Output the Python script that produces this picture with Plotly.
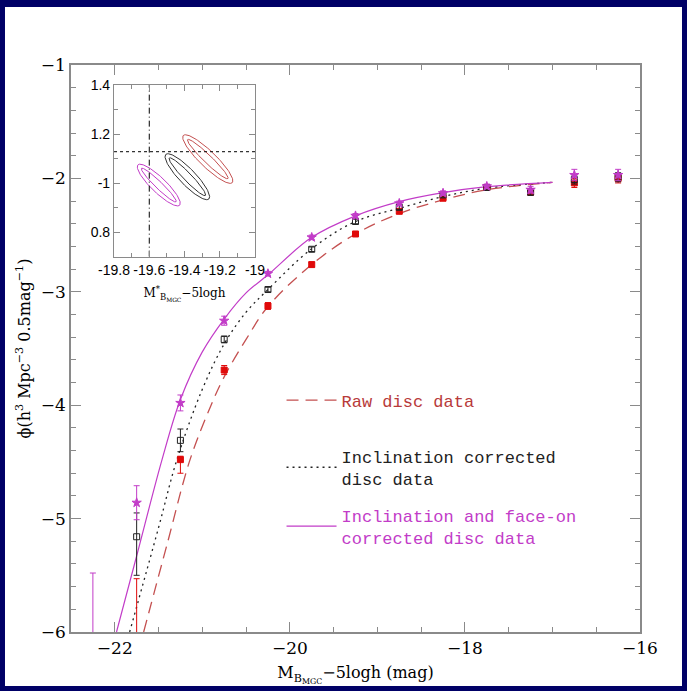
import numpy as np
import plotly.graph_objects as go

# ---------------- data ----------------
bins = [-22.25, -21.75, -21.25, -20.75, -20.25, -19.75, -19.25, -18.75,
        -18.25, -17.75, -17.25, -16.75, -16.25]

raw_y = [None, -6.5, -4.48, -3.69, -3.125, -2.76, -2.49, -2.29, -2.175, -2.08, -2.12, -2.04, -2.00]
raw_up = [0, 0.97, 0.03, 0.04, 0.03, 0.02, 0.02, 0.02, 0.02, 0.02, 0.03, 0.04, 0.04]
raw_dn = [0, 0.3, 0.12, 0.04, 0.03, 0.02, 0.02, 0.02, 0.02, 0.02, 0.03, 0.04, 0.04]

inc_y = [None, -5.16, -4.31, -3.42, -2.98, -2.625, -2.38, -2.255, -2.146, -2.08, -2.12, -2.01, -1.99]
inc_up = [0, 0.21, 0.10, 0.03, 0.02, 0.02, 0.02, 0.02, 0.02, 0.02, 0.03, 0.04, 0.04]
inc_dn = [0, 0.34, 0.10, 0.03, 0.02, 0.02, 0.02, 0.02, 0.02, 0.02, 0.03, 0.04, 0.04]

fo_y = [-6.3, -4.86, -3.98, -3.255, -2.84, -2.52, -2.33, -2.22, -2.13, -2.07, -2.10, -1.97, -1.97]
fo_up = [0.82, 0.15, 0.07, 0.04, 0.02, 0.02, 0.02, 0.02, 0.02, 0.02, 0.03, 0.05, 0.05]
fo_dn = [0.3, 0.15, 0.07, 0.04, 0.02, 0.02, 0.02, 0.02, 0.02, 0.02, 0.03, 0.05, 0.05]

# fitted curves
fo_cx = [-21.98, -21.75, -21.46, -21.25, -21.0, -20.75, -20.5, -20.25, -19.75, -19.25, -18.75, -18.25, -17.75, -17.0]
fo_cy = [-6.0, -5.33, -4.48, -3.95, -3.53, -3.24, -3.01, -2.85, -2.52, -2.33, -2.205, -2.126, -2.073, -2.035]
inc_cx = [-21.83, -21.5, -21.29, -21.0, -20.75, -20.5, -20.25, -19.75, -19.25, -18.75, -18.25, -17.75, -17.0]
inc_cy = [-6.0, -5.08, -4.48, -3.86, -3.46, -3.18, -2.98, -2.62, -2.38, -2.264, -2.16, -2.086, -2.035]
raw_cx = [-21.67, -21.4, -21.14, -20.9, -20.75, -20.5, -20.25, -19.75, -19.25, -18.75, -18.25, -17.75, -17.0]
raw_cy = [-6.0, -5.22, -4.48, -4.0, -3.75, -3.42, -3.13, -2.76, -2.49, -2.31, -2.19, -2.10, -2.035]

# inset: error ellipses (centre x, centre y, semi-major px, semi-minor px, angle deg)
ell_names = ["raw", "inc", "fo"]
ell_cx = [-19.268, -19.384, -19.546]
ell_cy = [1.098, 1.026, 0.992]
ell_a_outer = [34, 31, 29]
ell_b_outer = [8.0, 8.0, 7.5]
ell_a_inner = [28, 26, 24]
ell_b_inner = [4.0, 4.0, 3.5]
ell_ang = [44, 46, 44]
fid_x = -19.6
fid_y = 1.128

# colours
RED_L = "#c45050"
RED_M = "#e00a0a"
BLK = "#222222"
MAG = "#c23cc8"
NAVY = "#000066"

fig = go.Figure()

# ---- curves (each in its own legend box) ----
fig.add_trace(go.Scatter(x=raw_cx, y=raw_cy, mode="lines", line=dict(color=RED_L, width=1.3, dash="12px,7px", shape="spline"),
                         name='<span style="color:#b83a3a">Raw disc data</span>', legend="legend"))
fig.add_trace(go.Scatter(x=inc_cx, y=inc_cy, mode="lines", line=dict(color=BLK, width=1.3, dash="2px,4px", shape="spline"),
                         name='<span style="color:#222">Inclination corrected<br>disc data</span>', legend="legend2"))
fig.add_trace(go.Scatter(x=fo_cx, y=fo_cy, mode="lines", line=dict(color=MAG, width=1.2, shape="spline"),
                         name='<span style="color:#c23cc8">Inclination and face-on<br>corrected disc data</span>', legend="legend3"))

# ---- points ----
def pts(y, up, dn, color, symbol, size, fill):
    return go.Scatter(x=bins, y=y, mode="markers", showlegend=False, cliponaxis=True,
                      marker=dict(symbol=symbol, size=size, color=fill, line=dict(color=color, width=1)),
                      error_y=dict(type="data", symmetric=False, array=up, arrayminus=dn,
                                   color=color, thickness=1, width=3))

fig.add_trace(pts(raw_y, raw_up, raw_dn, RED_M, "square", 6, RED_M))
fig.add_trace(pts(inc_y, inc_up, inc_dn, BLK, "square-open", 6, BLK))
fig.add_trace(pts(fo_y, fo_up, fo_dn, MAG, "star", 7, MAG))

# ---- inset ellipses ----
inset_dom_x = [0.0756, 0.3234]
inset_dom_y = [0.662, 0.9647]
inset_rx = [-19.8, -19.0]
inset_ry = [0.7, 1.4]
plot_w, plot_h = 569, 567
pxx = (inset_dom_x[1] - inset_dom_x[0]) * plot_w / (inset_rx[1] - inset_rx[0])
pxy = (inset_dom_y[1] - inset_dom_y[0]) * plot_h / (inset_ry[1] - inset_ry[0])
t = np.linspace(0, 2 * np.pi, 120)
ecols = [RED_L, "#333333", MAG]
for i in range(3):
    th = np.deg2rad(ell_ang[i])
    for a, b in ((ell_a_outer[i], ell_b_outer[i]), (ell_a_inner[i], ell_b_inner[i])):
        dx = a * np.cos(t) * np.cos(th) - b * np.sin(t) * np.sin(th)
        dy = a * np.cos(t) * np.sin(th) + b * np.sin(t) * np.cos(th)
        fig.add_trace(go.Scatter(x=ell_cx[i] + dx / pxx, y=ell_cy[i] - dy / pxy, mode="lines",
                                 line=dict(color=ecols[i], width=1), showlegend=False,
                                 xaxis="x2", yaxis="y2"))

fig.add_trace(go.Scatter(x=[fid_x, fid_x], y=inset_ry, mode="lines", line=dict(color="black", width=1, dash="6px,3px,1px,3px"),
                         showlegend=False, xaxis="x2", yaxis="y2"))
fig.add_trace(go.Scatter(x=inset_rx, y=[fid_y, fid_y], mode="lines", line=dict(color="black", width=1, dash="3px,3px"),
                         showlegend=False, xaxis="x2", yaxis="y2"))

AX = "#8a8a8a"
SERIF = "DejaVu Serif"
leg_common = dict(x=0.37, xanchor="left", yanchor="top", bgcolor="rgba(0,0,0,0)",
                  font=dict(family="Liberation Mono", size=17), itemwidth=50)
fig.update_layout(
    width=687, height=691,
    margin=dict(l=71, r=47, t=65, b=59),
    paper_bgcolor=NAVY, plot_bgcolor="white",
    font=dict(family=SERIF, color="black", size=17),
    shapes=[dict(type="rect", xref="paper", yref="paper", x0=-0.116, x1=1.0738, y0=-0.0952, y1=1.1023,
                 fillcolor="white", line=dict(width=0), layer="below")],
    xaxis=dict(range=[-22.5, -16], tickvals=[-22, -20, -18, -16], ticks="inside", ticklen=10, tickcolor=AX,
               showline=True, linecolor=AX, linewidth=1.5, mirror="allticks", showgrid=False, zeroline=False,
               minor=dict(dtick=0.5, tick0=-22, ticks="inside", ticklen=5, tickcolor=AX),
               title=dict(text="M<sub>B<sub>MGC</sub></sub>−5logh (mag)", standoff=10, font=dict(size=16))),
    yaxis=dict(range=[-6, -1], tickvals=[-6, -5, -4, -3, -2, -1], ticks="inside", ticklen=10, tickcolor=AX,
               showline=True, linecolor=AX, linewidth=1.5, mirror="allticks", showgrid=False, zeroline=False,
               minor=dict(dtick=0.2, tick0=-6, ticks="inside", ticklen=5, tickcolor=AX),
               title=dict(text="ϕ(h<sup>3</sup> Mpc<sup>−3</sup> 0.5mag<sup>−1</sup>)", standoff=6, font=dict(size=16))),
    xaxis2=dict(domain=inset_dom_x, anchor="y2", range=inset_rx,
                tickvals=[-19.8, -19.6, -19.4, -19.2, -19.0], ticktext=["-19.8", "-19.6", "-19.4", "-19.2", "-19"],
                ticks="inside", ticklen=6, tickcolor=AX, showline=True, linecolor=AX, linewidth=1.2, mirror="allticks",
                showgrid=False, zeroline=False, tickfont=dict(family="Liberation Sans", size=14),
                minor=dict(dtick=0.1, tick0=-19.8, ticks="inside", ticklen=4, tickcolor=AX),
                title=dict(text="M<sup>*</sup><sub>B<sub>MGC</sub></sub>−5logh", standoff=12, font=dict(size=12))),
    yaxis2=dict(domain=inset_dom_y, anchor="x2", range=inset_ry,
                tickvals=[0.8, 1.0, 1.2, 1.4], ticktext=["0.8", "-1", "1.2", "1.4"],
                ticks="inside", ticklen=6, tickcolor=AX, showline=True, linecolor=AX, linewidth=1.2, mirror="allticks",
                showgrid=False, zeroline=False, tickfont=dict(family="Liberation Sans", size=14),
                minor=dict(dtick=0.1, tick0=0.7, ticks="inside", ticklen=4, tickcolor=AX)),
    legend=dict(y=0.44, **leg_common),
    legend2=dict(y=0.341, **leg_common),
    legend3=dict(y=0.237, **leg_common),
    showlegend=True,
)

fig.write_html("out.html")
